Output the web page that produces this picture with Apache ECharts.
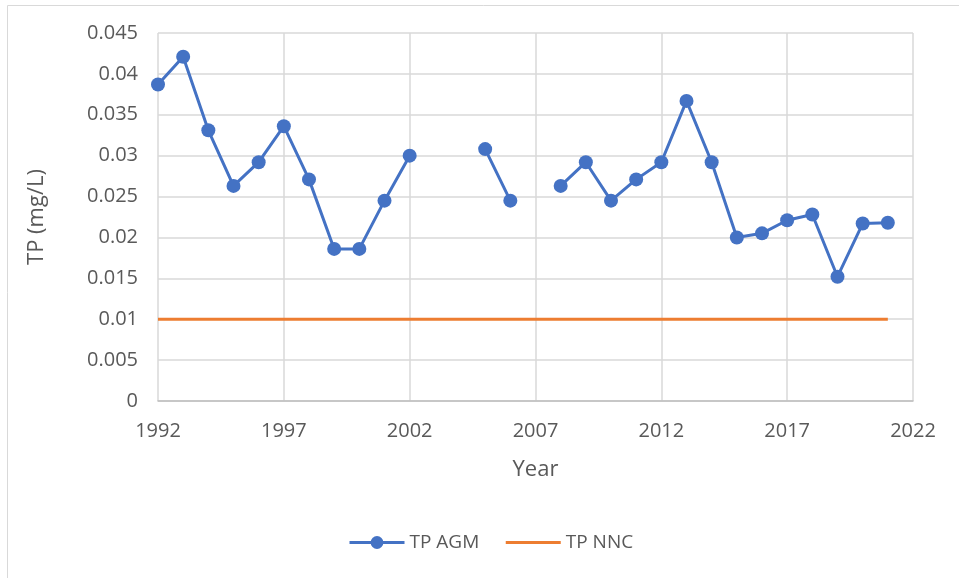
<!DOCTYPE html>
<html lang="en">
<head>
    <meta charset="UTF-8">
    <title>TP</title>
    <script src="https://cdn.jsdelivr.net/npm/echarts@6/dist/echarts.min.js"></script>
    <style>
        html, body { margin: 0; padding: 0; background: #fff; }
    </style>
</head>
<body>
<div id="main" style="width: 959px;height:578px;"></div>

<script type="text/javascript">
    // years on the x axis (1992 .. 2022)
    var years = [];
    for (var y = 1992; y <= 2022; y++) years.push(String(y));

    // annual geometric mean TP, null = no data
    var tpAgm = [0.0387, 0.0421, 0.0331, 0.0263, 0.0292, 0.0336, 0.0271, 0.0186, 0.0186, 0.0245,
        0.0300, null, null, 0.0308, 0.0245, null, 0.0263, 0.0292, 0.0245, 0.0271,
        0.0292, 0.0367, 0.0292, 0.0200, 0.0205, 0.0221, 0.0228, 0.0152, 0.0217, 0.0218, null];

    // numeric nutrient criterion
    var tpNnc = [0.01, 0.01, 0.01, 0.01, 0.01, 0.01, 0.01, 0.01, 0.01, 0.01,
        0.01, 0.01, 0.01, 0.01, 0.01, 0.01, 0.01, 0.01, 0.01, 0.01,
        0.01, 0.01, 0.01, 0.01, 0.01, 0.01, 0.01, 0.01, 0.01, 0.01, null];

    var font = '"Open Sans", Lato, sans-serif';
    var myChart = echarts.init(document.getElementById('main'));
    var option = {
        animation: false,
        textStyle: { fontFamily: font },
        graphic: [{
            type: 'rect',
            shape: { x: 7.5, y: 5.5, width: 1000, height: 600 },
            style: { fill: 'none', stroke: '#d9d9d9', lineWidth: 1 },
            silent: true
        }],
        grid: { left: 158, right: 46, top: 33, bottom: 177 },
        legend: {
            top: 528,
            left: 343,
            itemWidth: 55,
            itemHeight: 16,
            itemGap: 25,
            lineStyle: { width: 3 },
            textStyle: { fontSize: 19, color: '#595959', fontFamily: font },
            data: [
                { name: 'TP AGM' },
                { name: 'TP NNC', itemStyle: { opacity: 0 } }
            ]
        },
        xAxis: {
            type: 'category',
            data: years,
            boundaryGap: false,
            name: 'Year',
            nameLocation: 'middle',
            nameGap: 58,
            nameTextStyle: { fontSize: 22, color: '#595959' },
            axisLine: { lineStyle: { color: '#bfbfbf', width: 1.5 } },
            axisTick: { show: false },
            axisLabel: { interval: 4, fontSize: 20, color: '#595959', margin: 20 },
            splitLine: { show: true, interval: 4, lineStyle: { color: '#d9d9d9', width: 1.5 } }
        },
        yAxis: {
            type: 'value',
            min: 0,
            max: 0.045,
            interval: 0.005,
            name: 'TP (mg/L)',
            nameLocation: 'middle',
            nameGap: 110,
            nameTextStyle: { fontSize: 22, color: '#595959' },
            axisLine: { show: false },
            axisTick: { show: false },
            axisLabel: {
                fontSize: 20, color: '#595959', margin: 20,
                formatter: function (v) { return String(+v.toFixed(3)); }
            },
            splitLine: { lineStyle: { color: '#d9d9d9', width: 1.5 } }
        },
        series: [{
            name: 'TP AGM',
            type: 'line',
            data: tpAgm,
            symbol: 'circle',
            symbolSize: 14,
            itemStyle: { color: '#4472C4' },
            lineStyle: { color: '#4472C4', width: 3 }
        }, {
            name: 'TP NNC',
            type: 'line',
            data: tpNnc,
            symbol: 'none',
            itemStyle: { color: '#ED7D31' },
            lineStyle: { color: '#ED7D31', width: 3 },
            z: 1
        }]
    };
    myChart.setOption(option);
</script>
</body>
</html>
